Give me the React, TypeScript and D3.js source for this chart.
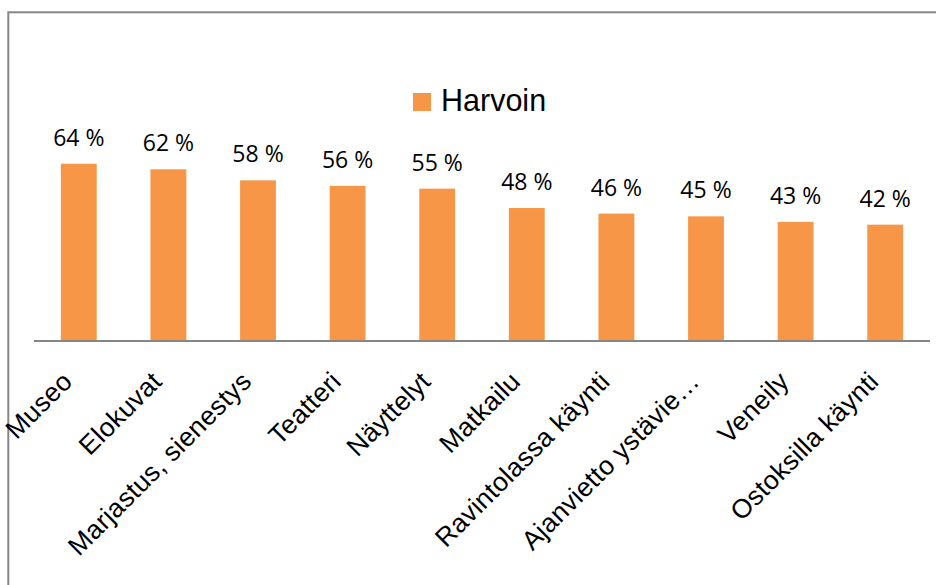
import React from "react";
import * as d3 from "d3";

const categories = [
  "Museo",
  "Elokuvat",
  "Marjastus, sienestys",
  "Teatteri",
  "Näyttelyt",
  "Matkailu",
  "Ravintolassa käynti",
  "Ajanvietto ystävie…",
  "Veneily",
  "Ostoksilla käynti",
];
const values = [64, 62, 58, 56, 55, 48, 46, 45, 43, 42];
const seriesName = "Harvoin";

const W = 936;
const H = 585;
const BAR = "#F79646";

export default function App() {
  const x = d3
    .scaleBand<string>()
    .domain(categories)
    .range([34, 930])
    .paddingInner(0.6)
    .paddingOuter(0.3);
  const y = d3.scaleLinear().domain([0, 70]).range([341, 147.1]);

  return (
    <svg
      width={W}
      height={H}
      style={{ position: "absolute", left: 0, top: 0, background: "#fff" }}
    >
      <rect x={0} y={0} width={W} height={H} fill="#fff" />
      <rect
        x={8.3}
        y={12.3}
        width={W + 20}
        height={H + 20}
        fill="none"
        stroke="#868686"
        strokeWidth={2}
      />
      {/* legend */}
      <rect x={413} y={93} width={18} height={18} fill={BAR} />
      <text
        x={441}
        y={111}
        fontFamily="'Liberation Sans', Arial, sans-serif"
        fontSize={30.5}
        fill="#000"
      >
        {seriesName}
      </text>
      {/* bars */}
      {categories.map((c, i) => (
        <rect
          key={c}
          x={x(c)}
          y={y(values[i])}
          width={x.bandwidth()}
          height={y(0) - y(values[i])}
          fill={BAR}
        />
      ))}
      {/* data labels */}
      {categories.map((c, i) => (
        <text
          key={"l" + c}
          x={(x(c) as number) + x.bandwidth() / 2}
          y={y(values[i]) - 18}
          textAnchor="middle"
          fontFamily="'Open Sans', sans-serif"
          fontSize={23}
          fill="#000"
        >
          {values[i]} %
        </text>
      ))}
      {/* axis line */}
      <line x1={34} x2={930} y1={341} y2={341} stroke="#868686" strokeWidth={2} />
      {/* category labels */}
      {categories.map((c) => {
        const cx = (x(c) as number) + x.bandwidth() / 2 - 5;
        const cy = 383;
        return (
          <text
            key={"c" + c}
            transform={`translate(${cx},${cy}) rotate(-45)`}
            textAnchor="end"
            fontFamily="'Liberation Sans', Arial, sans-serif"
            fontSize={26.5}
            letterSpacing={0.3}
            fill="#000"
          >
            {c}
          </text>
        );
      })}
    </svg>
  );
}
